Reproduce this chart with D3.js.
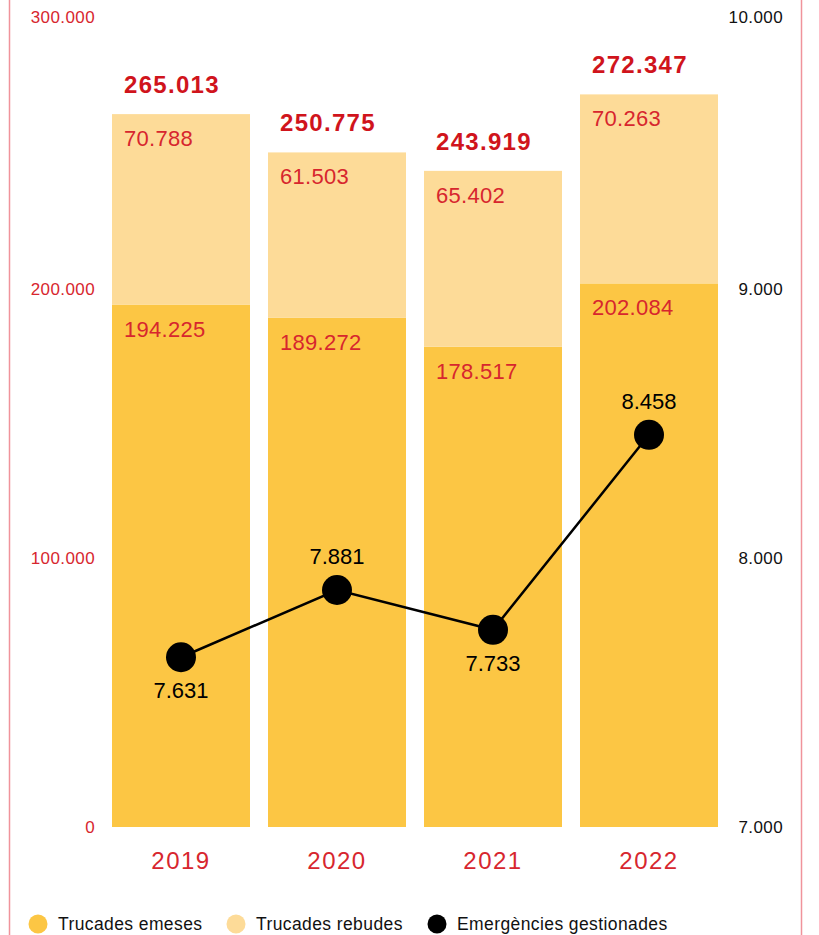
<!DOCTYPE html>
<html><head><meta charset="utf-8">
<script src="https://cdn.jsdelivr.net/npm/d3@7"></script>
<style>body{margin:0;background:#fff}svg{display:block;font-family:"Liberation Sans",Arial,Helvetica,sans-serif}</style>
</head><body>
<script>
const years = ["2019","2020","2021","2022"];
const emeses = [194225, 189272, 178517, 202084];
const rebudes = [70788, 61503, 65402, 70263];
const totals = [265013, 250775, 243919, 272347];
const emergencies = [7631, 7881, 7733, 8458];
const emergLabelPos = ["below","above","below","above"];
const leftTicks = [0, 100000, 200000, 300000];
const rightTicks = [7000, 8000, 9000, 10000];
const legendItems = ["Trucades emeses","Trucades rebudes","Emergències gestionades"];

const W = 819, H = 935;
const red = "#d7262e", colE = "#fcc644", colR = "#fddb98";
const fmt = v => d3.format(",")(v).replace(/,/g, ".");

const svg = d3.select("body").append("svg").attr("width", W).attr("height", H);

svg.append("line").attr("x1",9.5).attr("x2",9.5).attr("y1",0).attr("y2",H).attr("stroke","#f0939b").attr("stroke-width",1.5);
svg.append("line").attr("x1",801.5).attr("x2",801.5).attr("y1",0).attr("y2",H).attr("stroke","#f0939b").attr("stroke-width",1.5);

const x = d3.scaleBand().domain(years).range([103, 727]).paddingInner(18/156).paddingOuter(9/156);
const y = d3.scaleLinear().domain([0, 300000]).range([827, 20]);
const y2 = d3.scaleLinear().domain([7000, 10000]).range([827, 20]);

// left axis
const la = svg.append("g").attr("transform","translate(95,0)")
  .call(d3.axisLeft(y).tickValues(leftTicks).tickSize(0).tickPadding(0).tickFormat(fmt));
la.select(".domain").remove();
la.selectAll("text").attr("fill", red).attr("font-size", 17).attr("letter-spacing", 0.4).attr("font-family","Liberation Sans, Arial, sans-serif").attr("dy","0.32em");
la.selectAll(".tick").filter(d=>d===300000).select("text").attr("dy","0.15em");

// right axis
const ra = svg.append("g").attr("transform","translate(783,0)")
  .call(d3.axisLeft(y2).tickValues(rightTicks).tickSize(0).tickPadding(0).tickFormat(fmt));
ra.select(".domain").remove();
ra.selectAll("text").attr("fill", "#111").attr("font-size", 17).attr("letter-spacing", 0.4).attr("font-family","Liberation Sans, Arial, sans-serif").attr("dy","0.32em");
ra.selectAll(".tick").filter(d=>d===10000).select("text").attr("dy","0.15em");

// bars
const g = svg.append("g");
g.selectAll(".be").data(years).join("rect")
  .attr("x", d=>x(d)).attr("width", x.bandwidth())
  .attr("y", (d,i)=>y(emeses[i])).attr("height", (d,i)=>y(0)-y(emeses[i])).attr("fill", colE);
g.selectAll(".br").data(years).join("rect")
  .attr("x", d=>x(d)).attr("width", x.bandwidth())
  .attr("y", (d,i)=>y(emeses[i]+rebudes[i])).attr("height", (d,i)=>y(emeses[i])-y(emeses[i]+rebudes[i])).attr("fill", colR);

// inner labels
g.selectAll(".le").data(years).join("text")
  .attr("x", d=>x(d)+12).attr("y", (d,i)=>y(emeses[i])+32)
  .attr("fill", red).attr("font-size", 22).attr("letter-spacing", 0.3).text((d,i)=>fmt(emeses[i]));
g.selectAll(".lr").data(years).join("text")
  .attr("x", d=>x(d)+12).attr("y", (d,i)=>y(emeses[i]+rebudes[i])+32)
  .attr("fill", red).attr("font-size", 22).attr("letter-spacing", 0.3).text((d,i)=>fmt(rebudes[i]));
g.selectAll(".lt").data(years).join("text")
  .attr("x", d=>x(d)+12).attr("y", (d,i)=>y(totals[i])-21)
  .attr("fill", "#d0141c").attr("font-size", 24).attr("letter-spacing", 1.3).attr("font-weight","bold").text((d,i)=>fmt(totals[i]));

// x labels
g.selectAll(".xl").data(years).join("text")
  .attr("x", d=>x(d)+x.bandwidth()/2).attr("y", 869).attr("text-anchor","middle")
  .attr("fill", red).attr("font-size", 24).attr("letter-spacing", 1.5).text(d=>d);

// line
const cx = d => x(d)+x.bandwidth()/2;
const line = d3.line().x((d,i)=>cx(years[i])).y(d=>y2(d));
g.append("path").datum(emergencies).attr("d", line).attr("fill","none").attr("stroke","#000").attr("stroke-width",2.5);
g.selectAll(".pt").data(emergencies).join("circle")
  .attr("cx",(d,i)=>cx(years[i])).attr("cy", d=>y2(d)).attr("r",15).attr("fill","#000");
g.selectAll(".pl").data(emergencies).join("text")
  .attr("x",(d,i)=>cx(years[i])).attr("y",(d,i)=> emergLabelPos[i]==="below" ? y2(d)+41 : y2(d)-26)
  .attr("text-anchor","middle").attr("fill","#000").attr("font-size",22).text(d=>fmt(d));

// legend
const legColors = [colE, colR, "#000"];
const legX = [38, 236, 437];
const lg = svg.append("g");
legendItems.forEach((t,i)=>{
  lg.append("circle").attr("cx", legX[i]).attr("cy", 924).attr("r", 9.5).attr("fill", legColors[i]);
  lg.append("text").attr("x", legX[i]+20).attr("y", 930).attr("font-size", 17.5).attr("letter-spacing", 0.4).attr("fill","#111").text(t);
});
</script>
</body></html>
